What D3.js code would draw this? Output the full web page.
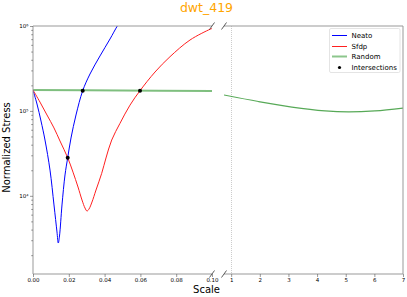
<!DOCTYPE html>
<html>
<head>
<meta charset="utf-8">
<script src="https://cdn.jsdelivr.net/npm/d3@7"></script>
<style>
  body { margin: 0; background: #fff; }
  svg { font-family: "DejaVu Sans", sans-serif; }
</style>
</head>
<body>
<svg id="chart" width="407" height="297"></svg>
<script>
// values (x = scale, y = normalized stress)
const neatoX = [0, 0.00223, 0.00447, 0.0067, 0.0095, 0.01173, 0.0134, 0.01413, 0.0148, 0.0162, 0.01788, 0.01939, 0.02123, 0.02402, 0.02777, 0.03184, 0.03743, 0.04302, 0.0471, 0.0497];
const neatoY = [176000, 120600, 76000, 45400, 20100, 7800, 3750, 2780, 3360, 7800, 17600, 28100, 48000, 89500, 173000, 272000, 444000, 703000, 1000000, 1210000];

const sfdpX = [0, 0.00391, 0.00782, 0.01173, 0.01508, 0.01939, 0.02235, 0.02514, 0.02737, 0.02905, 0.03017, 0.03128, 0.03296, 0.0352, 0.03838, 0.04078, 0.04397, 0.0486, 0.05419, 0.05978, 0.06816, 0.07654, 0.08771, 0.09888, 0.1];
const sfdpY = [176000, 127000, 89500, 63000, 44200, 28100, 19000, 12700, 8930, 7180, 6620, 6990, 8450, 11700, 18400, 27900, 45400, 71400, 117000, 173000, 287000, 435000, 684000, 915000, 935000];

const randomLeftX = [0, 0.05, 0.1];
const randomLeftY = [176000, 174000, 172000];
const randomRightX = [0.75, 1.95, 3.12, 4.28, 5.09, 6.02, 7];
const randomRightY = [154000, 129000, 111000, 100000, 97300, 100000, 108000];

const crossX = [0.01939, 0.02777, 0.05978];
const crossY = [28100, 173000, 173000];

const leftTicks = [0, 0.02, 0.04, 0.06, 0.08, 0.1];
const rightTicks = [1, 2, 3, 4, 5, 6, 7];
const yTicks = [1e4, 1e5, 1e6];
const legendNames = ["Neato", "Sfdp", "Random", "Intersections"];

const svg = d3.select("#chart");

const xL = d3.scaleLinear().domain([0, 0.1]).range([33, 212]);
const xR = d3.scaleLinear().domain([0.75, 7]).range([224, 403]);
const y = d3.scaleLog().domain([1200, 1e6]).range([274, 26]);

const plotTop = 26, plotBottom = 274;
const spine = "#999";

// clip paths
const defs = svg.append("defs");
defs.append("clipPath").attr("id", "clipL").append("rect")
    .attr("x", 33).attr("y", plotTop).attr("width", 179).attr("height", plotBottom - plotTop);
defs.append("clipPath").attr("id", "clipR").append("rect")
    .attr("x", 224).attr("y", plotTop).attr("width", 179).attr("height", plotBottom - plotTop);

// dotted line at scale = 1
svg.append("line")
    .attr("x1", Math.round(xR(1)) + 0.5).attr("x2", Math.round(xR(1)) + 0.5)
    .attr("y1", plotTop).attr("y2", plotBottom)
    .attr("stroke", "#ccc").attr("stroke-width", 1)
    .attr("stroke-dasharray", "1,1");

function pairs(xs, ys) {
    return xs.map((d, i) => [d, ys[i]]);
}

const lineL = d3.line().x(d => xL(d[0])).y(d => y(d[1])).curve(d3.curveCatmullRom.alpha(0.5));
const lineR = d3.line().x(d => xR(d[0])).y(d => y(d[1])).curve(d3.curveCatmullRom.alpha(0.5));

const gL = svg.append("g").attr("clip-path", "url(#clipL)");
const gR = svg.append("g").attr("clip-path", "url(#clipR)");

gL.append("path").datum(pairs(randomLeftX, randomLeftY))
    .attr("d", lineL).attr("fill", "none")
    .attr("stroke", "#008000").attr("stroke-opacity", 0.5).attr("stroke-width", 2);
gL.append("path").datum(pairs(neatoX, neatoY))
    .attr("d", lineL).attr("fill", "none")
    .attr("stroke", "#0000ff").attr("stroke-width", 1);
gL.append("path").datum(pairs(sfdpX, sfdpY))
    .attr("d", lineL).attr("fill", "none")
    .attr("stroke", "#ff2020").attr("stroke-width", 1);
gL.selectAll("circle").data(pairs(crossX, crossY)).enter().append("circle")
    .attr("cx", d => xL(d[0])).attr("cy", d => y(d[1])).attr("r", 2)
    .attr("fill", "#000");

gR.append("path").datum(pairs(randomRightX, randomRightY))
    .attr("d", lineR).attr("fill", "none")
    .attr("stroke", "#3a9a3a").attr("stroke-opacity", 0.85).attr("stroke-width", 1.2);

// spines
function seg(x1, y1, x2, y2) {
    svg.append("line").attr("x1", x1).attr("y1", y1).attr("x2", x2).attr("y2", y2)
        .attr("stroke", spine).attr("stroke-width", 1);
}
seg(33, plotTop, 212, plotTop);
seg(33, plotBottom, 212, plotBottom);
seg(33, plotTop, 33, plotBottom);
seg(224, plotTop, 403, plotTop);
seg(224, plotBottom, 403, plotBottom);
seg(403, plotTop, 403, plotBottom);

// break marks
[212, 224].forEach(bx => {
    [plotTop, plotBottom].forEach(by => {
        svg.append("line")
            .attr("x1", bx - 2.5).attr("y1", by + 3.5)
            .attr("x2", bx + 2.5).attr("y2", by - 3.5)
            .attr("stroke", "#333").attr("stroke-width", 0.8);
    });
});

// axes
function styleAxis(g, size) {
    g.select(".domain").remove();
    g.selectAll(".tick line").attr("stroke", "#555").attr("stroke-width", 0.6);
    g.selectAll(".tick text").attr("font-size", size).attr("fill", "#000")
        .attr("font-family", "DejaVu Sans");
}

const axL = svg.append("g").attr("transform", `translate(0,${plotBottom})`)
    .call(d3.axisBottom(xL).tickValues(leftTicks).tickFormat(d3.format(".2f"))
        .tickSize(3).tickPadding(1.5));
styleAxis(axL, 5.5);

const axR = svg.append("g").attr("transform", `translate(0,${plotBottom})`)
    .call(d3.axisBottom(xR).tickValues(rightTicks).tickFormat(d3.format("d"))
        .tickSize(3).tickPadding(1.5));
styleAxis(axR, 5.5);

const sup = { 4: "⁴", 5: "⁵", 6: "⁶" };
const axY = svg.append("g").attr("transform", "translate(33,0)")
    .call(d3.axisLeft(y).tickValues(yTicks)
        .tickFormat(d => "10" + sup[Math.round(Math.log10(d))])
        .tickSize(3).tickPadding(1.5));
styleAxis(axY, 5.5);

const minor = [];
[1e3, 1e4, 1e5].forEach(b => {
    for (let k = 2; k <= 9; k++) if (b * k >= 1200) minor.push(b * k);
});
const axMinor = svg.append("g").attr("transform", "translate(33,0)")
    .call(d3.axisLeft(y).tickValues(minor).tickFormat("").tickSize(1.8));
styleAxis(axMinor, 5);

// labels
svg.append("text").attr("x", 206.5).attr("y", 11.5)
    .attr("text-anchor", "middle").attr("font-size", 12.5)
    .attr("fill", "#ffa500").text("dwt_419");

svg.append("text").attr("x", 206.5).attr("y", 292.5)
    .attr("text-anchor", "middle").attr("font-size", 10)
    .attr("fill", "#000").text("Scale");

svg.append("text")
    .attr("transform", "translate(10,147.5) rotate(-90)")
    .attr("text-anchor", "middle").attr("font-size", 10)
    .attr("fill", "#000").text("Normalized Stress");

// legend
const leg = svg.append("g");
leg.append("rect").attr("x", 329.5).attr("y", 28.5).attr("width", 70.5).attr("height", 44)
    .attr("fill", "#fff").attr("fill-opacity", 0.8)
    .attr("stroke", "#ddd").attr("stroke-width", 0.8).attr("rx", 1.5);
const legStyle = [
    { c: "#0000ff", o: 1, w: 1 },
    { c: "#ff2020", o: 1, w: 1 },
    { c: "#008000", o: 0.45, w: 2 },
    null
];
legendNames.forEach((name, i) => {
    const ly = Math.round(35 + i * 10.5) + 0.5;
    const s = legStyle[i];
    if (s) {
        leg.append("line").attr("x1", 332).attr("x2", 347).attr("y1", ly).attr("y2", ly)
            .attr("stroke", s.c).attr("stroke-opacity", s.o).attr("stroke-width", s.w);
    } else {
        leg.append("circle").attr("cx", 339.5).attr("cy", ly).attr("r", 1.6).attr("fill", "#000");
    }
    leg.append("text").attr("x", 351.5).attr("y", ly + 2.4)
        .attr("font-size", 7).attr("fill", "#000").text(name);
});
</script>
</body>
</html>
